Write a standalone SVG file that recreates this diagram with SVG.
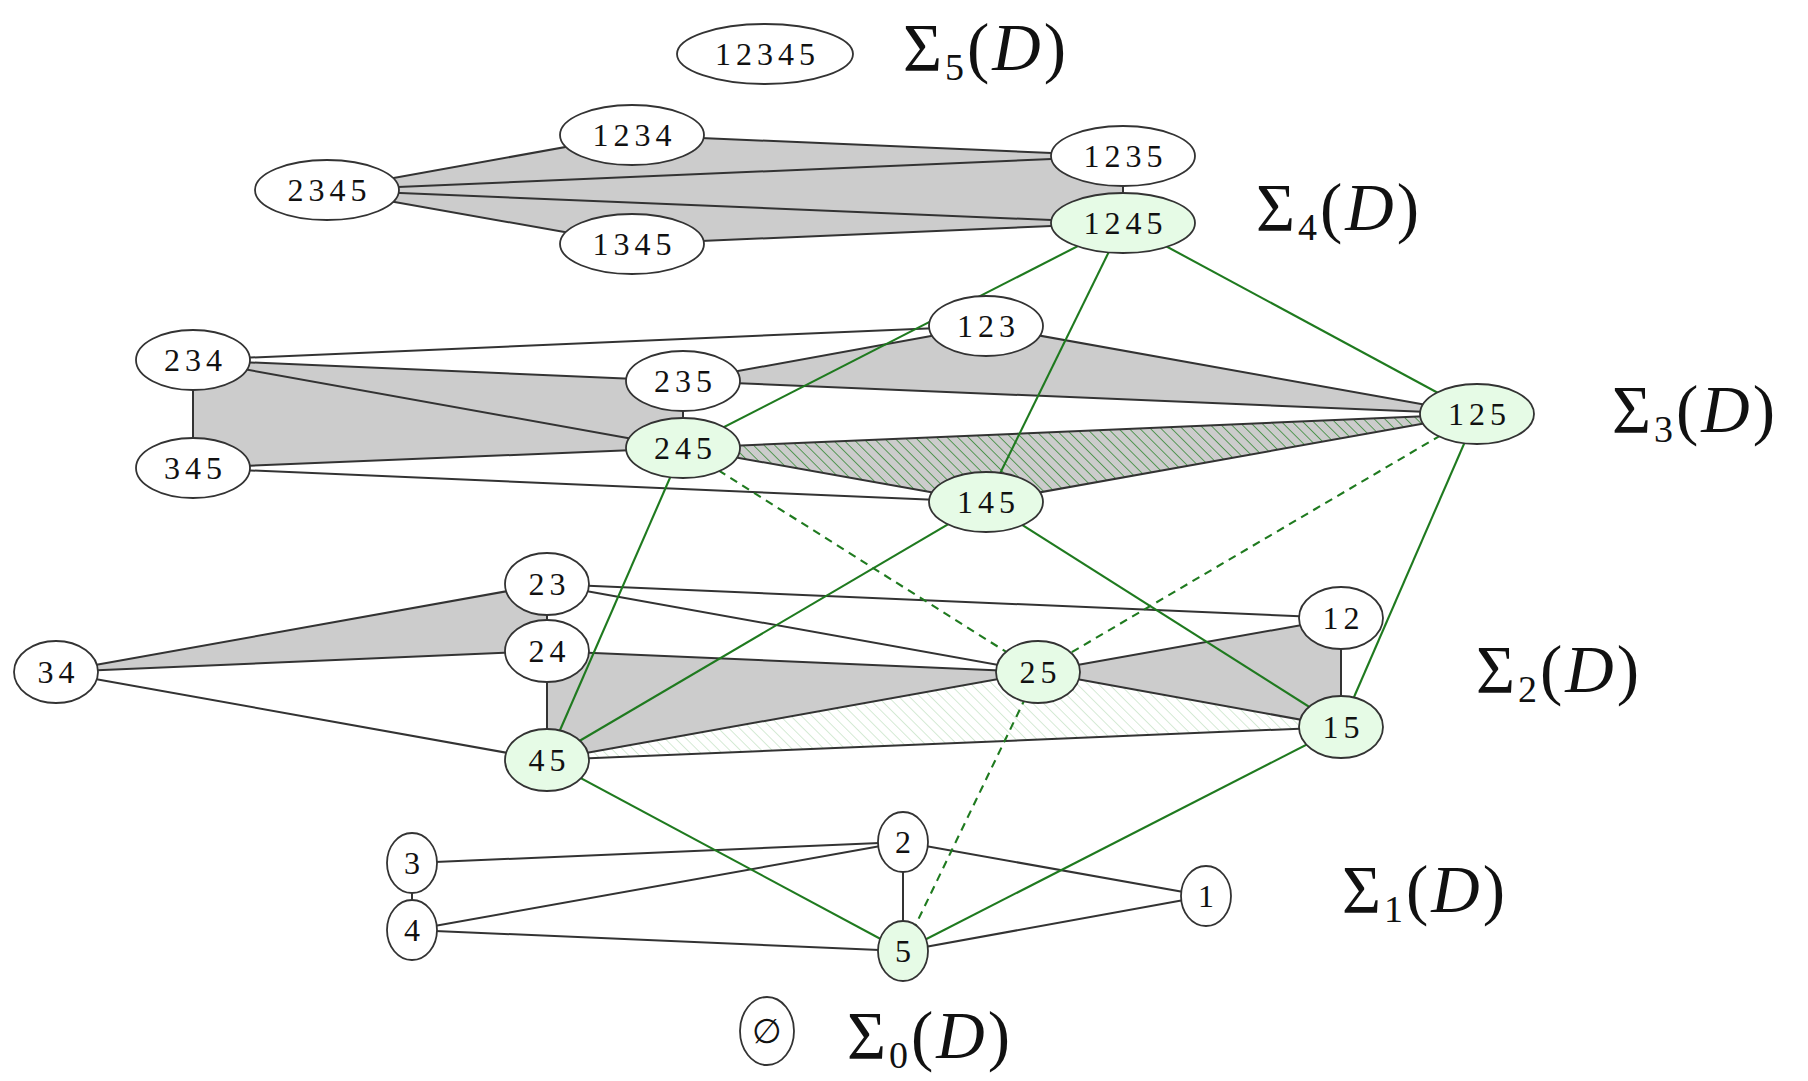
<svg xmlns="http://www.w3.org/2000/svg" width="1808" height="1081" viewBox="0 0 1808 1081">
<style>
.bg{fill:#ffffff}
.face{fill:#cccccc;stroke:none}
.e{stroke:#333333;stroke-width:2;fill:none}
.g{stroke:#1f7a1f;stroke-width:2.1;fill:none}
.gd{stroke:#1f7a1f;stroke-width:2.1;fill:none;stroke-dasharray:8 6}
.node ellipse{fill:#ffffff;stroke:#333333;stroke-width:1.8}
.node.on ellipse{fill:#e6fbe6}
.node text{font-family:"Liberation Serif","Times New Roman",serif;font-size:32px;letter-spacing:5px;text-anchor:middle;fill:#111111}
.sig{font-family:"Liberation Serif","Times New Roman",serif;font-size:67px;letter-spacing:3px;fill:#111111}
.sub{font-size:38px}
.cal{font-style:italic}
</style>
<defs>
<pattern id="hatchDark" patternUnits="userSpaceOnUse" width="7.5" height="7.5" patternTransform="rotate(-45)">
<line x1="0" y1="0" x2="0" y2="7.5" stroke="#2f852f" stroke-width="1.5"/>
</pattern>
<pattern id="hatchLight" patternUnits="userSpaceOnUse" width="7.5" height="7.5" patternTransform="rotate(-45)">
<line x1="0" y1="0" x2="0" y2="7.5" stroke="#bfe0bf" stroke-width="1.3"/>
</pattern>
</defs>
<rect class="bg" x="0" y="0" width="1808" height="1081"/>

<g id="faces">
<polygon class="face" points="327,190 632,135 1123,156 1123,223 632,244"/>
<polygon class="face" points="193,360 683,381 683,448 193,468"/>
<polygon class="face" points="683,381 986,326 1477,414"/>
<polygon class="face" points="683,448 1477,414 986,502"/>
<polygon fill="url(#hatchDark)" points="683,448 1477,414 986,502"/>
<polygon class="face" points="56,672 547,584 547,651"/>
<polygon class="face" points="547,651 1038,672 547,760"/>
<polygon class="face" points="1038,672 1341,618 1341,727"/>
<polygon fill="url(#hatchLight)" points="547,760 1038,672 1341,727"/>
</g>

<g id="connectors">
<line class="e" x1="327" y1="190" x2="632" y2="135"/>
<line class="e" x1="327" y1="190" x2="1123" y2="156"/>
<line class="e" x1="327" y1="190" x2="1123" y2="223"/>
<line class="e" x1="327" y1="190" x2="632" y2="244"/>
<line class="e" x1="632" y1="135" x2="1123" y2="156"/>
<line class="e" x1="632" y1="244" x2="1123" y2="223"/>
<line class="e" x1="1123" y1="156" x2="1123" y2="223"/>
<line class="e" x1="193" y1="360" x2="986" y2="326"/>
<line class="e" x1="193" y1="360" x2="683" y2="381"/>
<line class="e" x1="193" y1="360" x2="683" y2="448"/>
<line class="e" x1="193" y1="360" x2="193" y2="468"/>
<line class="e" x1="193" y1="468" x2="683" y2="448"/>
<line class="e" x1="193" y1="468" x2="986" y2="502"/>
<line class="e" x1="683" y1="381" x2="986" y2="326"/>
<line class="e" x1="683" y1="381" x2="1477" y2="414"/>
<line class="e" x1="683" y1="381" x2="683" y2="448"/>
<line class="e" x1="986" y1="326" x2="1477" y2="414"/>
<line class="e" x1="683" y1="448" x2="1477" y2="414"/>
<line class="e" x1="683" y1="448" x2="986" y2="502"/>
<line class="e" x1="986" y1="502" x2="1477" y2="414"/>
<line class="e" x1="56" y1="672" x2="547" y2="584"/>
<line class="e" x1="56" y1="672" x2="547" y2="651"/>
<line class="e" x1="56" y1="672" x2="547" y2="760"/>
<line class="e" x1="547" y1="584" x2="547" y2="651"/>
<line class="e" x1="547" y1="584" x2="1341" y2="618"/>
<line class="e" x1="547" y1="584" x2="1038" y2="672"/>
<line class="e" x1="547" y1="651" x2="1038" y2="672"/>
<line class="e" x1="547" y1="651" x2="547" y2="760"/>
<line class="e" x1="547" y1="760" x2="1038" y2="672"/>
<line class="e" x1="547" y1="760" x2="1341" y2="727"/>
<line class="e" x1="1038" y1="672" x2="1341" y2="618"/>
<line class="e" x1="1038" y1="672" x2="1341" y2="727"/>
<line class="e" x1="1341" y1="618" x2="1341" y2="727"/>
<line class="e" x1="412" y1="863" x2="903" y2="842"/>
<line class="e" x1="412" y1="863" x2="412" y2="930"/>
<line class="e" x1="412" y1="930" x2="903" y2="842"/>
<line class="e" x1="412" y1="930" x2="903" y2="951"/>
<line class="e" x1="903" y1="842" x2="903" y2="951"/>
<line class="e" x1="903" y1="842" x2="1206" y2="896"/>
<line class="e" x1="903" y1="951" x2="1206" y2="896"/>
<line class="g" x1="1123" y1="223" x2="683" y2="448"/>
<line class="g" x1="1123" y1="223" x2="986" y2="502"/>
<line class="g" x1="1123" y1="223" x2="1477" y2="414"/>
<line class="g" x1="683" y1="448" x2="547" y2="760"/>
<line class="gd" x1="683" y1="448" x2="1038" y2="672"/>
<line class="g" x1="986" y1="502" x2="547" y2="760"/>
<line class="g" x1="986" y1="502" x2="1341" y2="727"/>
<line class="gd" x1="1477" y1="414" x2="1038" y2="672"/>
<line class="g" x1="1477" y1="414" x2="1341" y2="727"/>
<line class="g" x1="547" y1="760" x2="903" y2="951"/>
<line class="gd" x1="1038" y1="672" x2="903" y2="951"/>
<line class="g" x1="1341" y1="727" x2="903" y2="951"/>
</g>

<g id="n12345" class="node"><ellipse cx="765" cy="54" rx="88" ry="30"/><text x="767.5" y="65">12345</text></g>
<g id="n1234" class="node"><ellipse cx="632" cy="135" rx="72" ry="30"/><text x="634.5" y="146">1234</text></g>
<g id="n2345" class="node"><ellipse cx="327" cy="190" rx="72" ry="30"/><text x="329.5" y="201">2345</text></g>
<g id="n1345" class="node"><ellipse cx="632" cy="244" rx="72" ry="30"/><text x="634.5" y="255">1345</text></g>
<g id="n1235" class="node"><ellipse cx="1123" cy="156" rx="72" ry="30"/><text x="1125.5" y="167">1235</text></g>
<g id="n1245" class="node on"><ellipse cx="1123" cy="223" rx="72" ry="30"/><text x="1125.5" y="234">1245</text></g>
<g id="n234" class="node"><ellipse cx="193" cy="360" rx="57" ry="30"/><text x="195.5" y="371">234</text></g>
<g id="n345" class="node"><ellipse cx="193" cy="468" rx="57" ry="30"/><text x="195.5" y="479">345</text></g>
<g id="n235" class="node"><ellipse cx="683" cy="381" rx="57" ry="30"/><text x="685.5" y="392">235</text></g>
<g id="n245" class="node on"><ellipse cx="683" cy="448" rx="57" ry="30"/><text x="685.5" y="459">245</text></g>
<g id="n123" class="node"><ellipse cx="986" cy="326" rx="57" ry="30"/><text x="988.5" y="337">123</text></g>
<g id="n125" class="node on"><ellipse cx="1477" cy="414" rx="57" ry="30"/><text x="1479.5" y="425">125</text></g>
<g id="n145" class="node on"><ellipse cx="986" cy="502" rx="57" ry="30"/><text x="988.5" y="513">145</text></g>
<g id="n34" class="node"><ellipse cx="56" cy="672" rx="42" ry="31"/><text x="58.5" y="683">34</text></g>
<g id="n23" class="node"><ellipse cx="547" cy="584" rx="42" ry="31"/><text x="549.5" y="595">23</text></g>
<g id="n24" class="node"><ellipse cx="547" cy="651" rx="42" ry="31"/><text x="549.5" y="662">24</text></g>
<g id="n45" class="node on"><ellipse cx="547" cy="760" rx="42" ry="31"/><text x="549.5" y="771">45</text></g>
<g id="n25" class="node on"><ellipse cx="1038" cy="672" rx="42" ry="31"/><text x="1040.5" y="683">25</text></g>
<g id="n12" class="node"><ellipse cx="1341" cy="618" rx="42" ry="31"/><text x="1343.5" y="629">12</text></g>
<g id="n15" class="node on"><ellipse cx="1341" cy="727" rx="42" ry="31"/><text x="1343.5" y="738">15</text></g>
<g id="n3" class="node"><ellipse cx="412" cy="863" rx="25" ry="30"/><text x="414.5" y="874">3</text></g>
<g id="n4" class="node"><ellipse cx="412" cy="930" rx="25" ry="30"/><text x="414.5" y="941">4</text></g>
<g id="n2" class="node"><ellipse cx="903" cy="842" rx="25" ry="30"/><text x="905.5" y="853">2</text></g>
<g id="n5" class="node on"><ellipse cx="903" cy="951" rx="25" ry="30"/><text x="905.5" y="962">5</text></g>
<g id="n1" class="node"><ellipse cx="1206" cy="896" rx="25" ry="30"/><text x="1208.5" y="907">1</text></g>
<g id="nempty" class="node"><ellipse cx="767" cy="1031" rx="27" ry="34"/><text x="769.5" y="1043" style="font-family:'DejaVu Serif',serif;font-size:34px">∅</text></g>

<g id="labels">
<text class="sig" x="903" y="70">Σ<tspan class="sub" dy="10">5</tspan><tspan dy="-10">(</tspan><tspan class="cal">D</tspan>)</text>
<text class="sig" x="1256" y="230">Σ<tspan class="sub" dy="10">4</tspan><tspan dy="-10">(</tspan><tspan class="cal">D</tspan>)</text>
<text class="sig" x="1612" y="432">Σ<tspan class="sub" dy="10">3</tspan><tspan dy="-10">(</tspan><tspan class="cal">D</tspan>)</text>
<text class="sig" x="1476" y="692">Σ<tspan class="sub" dy="10">2</tspan><tspan dy="-10">(</tspan><tspan class="cal">D</tspan>)</text>
<text class="sig" x="1342" y="912">Σ<tspan class="sub" dy="10">1</tspan><tspan dy="-10">(</tspan><tspan class="cal">D</tspan>)</text>
<text class="sig" x="847" y="1058">Σ<tspan class="sub" dy="10">0</tspan><tspan dy="-10">(</tspan><tspan class="cal">D</tspan>)</text>
</g>
</svg>
